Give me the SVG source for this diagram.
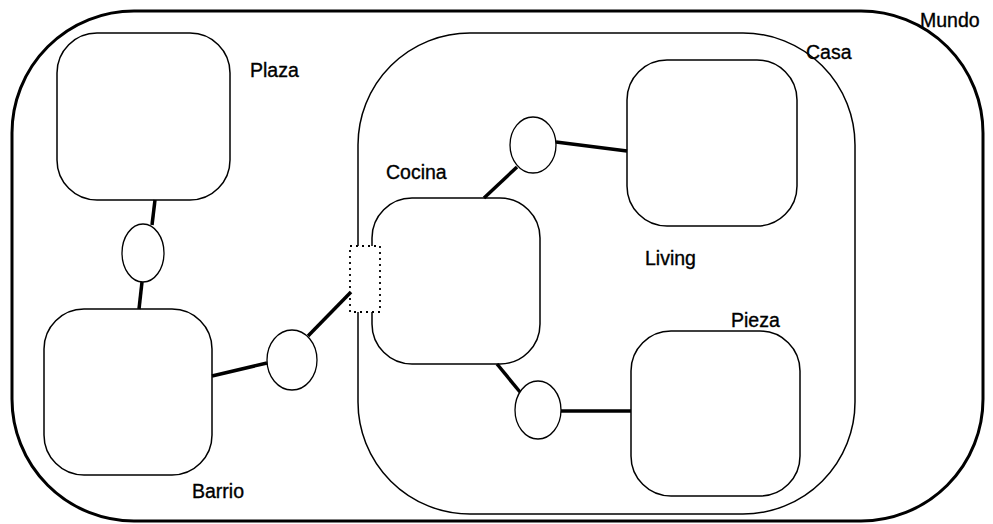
<svg xmlns="http://www.w3.org/2000/svg" width="993" height="524" viewBox="0 0 993 524">
  <style>
    .region { fill: none; stroke: #000; stroke-width: 1.5; }
    .outer { fill: none; stroke: #000; stroke-width: 3; }
    .state { fill: #fff; stroke: #000; stroke-width: 1.5; }
    .junction { fill: #fff; stroke: #000; stroke-width: 1.3; }
    .link { stroke: #000; stroke-width: 3.5; fill: none; }
    .port { fill: #fff; stroke: #000; stroke-width: 1.8; stroke-dasharray: 2 4; }
    .label { font-family: "Liberation Sans", Arial, sans-serif; font-size: 19.5px; fill: #000; stroke: #000; stroke-width: 0.35; }
  </style>
  <rect width="993" height="524" fill="#fff"/>

  <!-- world container -->
  <g id="mundo">
    <rect class="outer" x="12" y="11" width="971" height="510" rx="122" ry="122"/>
    <text class="label" x="920" y="27">Mundo</text>
  </g>

  <!-- house container -->
  <g id="casa">
    <rect class="region" x="358" y="33" width="497" height="481" rx="112" ry="112"/>
    <text class="label" x="806" y="59">Casa</text>
  </g>

  <g id="plaza">
    <rect class="state" x="57" y="33" width="173" height="167" rx="40" ry="40"/>
    <text class="label" x="250" y="77">Plaza</text>
  </g>

  <g id="barrio">
    <rect class="state" x="44" y="309" width="168" height="166" rx="40" ry="40"/>
    <text class="label" x="192" y="498">Barrio</text>
  </g>

  <g id="cocina">
    <rect class="state" x="372" y="198" width="168" height="166" rx="40" ry="40"/>
    <text class="label" x="386" y="179">Cocina</text>
  </g>

  <g id="living">
    <rect class="state" x="627" y="60" width="170" height="166" rx="40" ry="40"/>
    <text class="label" x="645" y="265">Living</text>
  </g>

  <g id="pieza">
    <rect class="state" x="631" y="331" width="169" height="165" rx="40" ry="40"/>
    <text class="label" x="731" y="327">Pieza</text>
  </g>

  <!-- entry port on the house boundary -->
  <g id="puerta">
    <rect class="port" x="350" y="246" width="30" height="66"/>
  </g>

  <g id="connectors">
    <line class="link" x1="155" y1="200" x2="152" y2="225"/>
    <line class="link" x1="142" y1="282" x2="139" y2="309"/>
    <line class="link" x1="212" y1="376" x2="267" y2="363"/>
    <line class="link" x1="308" y1="336" x2="351" y2="292"/>
    <line class="link" x1="556" y1="142" x2="627" y2="151"/>
    <line class="link" x1="517" y1="167" x2="484" y2="198"/>
    <line class="link" x1="497" y1="364" x2="520" y2="392"/>
    <line class="link" x1="561" y1="411" x2="631" y2="411"/>
  </g>

  <g id="j-plaza-barrio">
    <ellipse class="junction" cx="143" cy="253" rx="21" ry="29"/>
  </g>
  <g id="j-barrio-cocina">
    <ellipse class="junction" cx="292" cy="360" rx="25" ry="30"/>
  </g>
  <g id="j-cocina-living">
    <ellipse class="junction" cx="533" cy="145" rx="23" ry="28"/>
  </g>
  <g id="j-cocina-pieza">
    <ellipse class="junction" cx="538" cy="410" rx="23" ry="29"/>
  </g>
</svg>
